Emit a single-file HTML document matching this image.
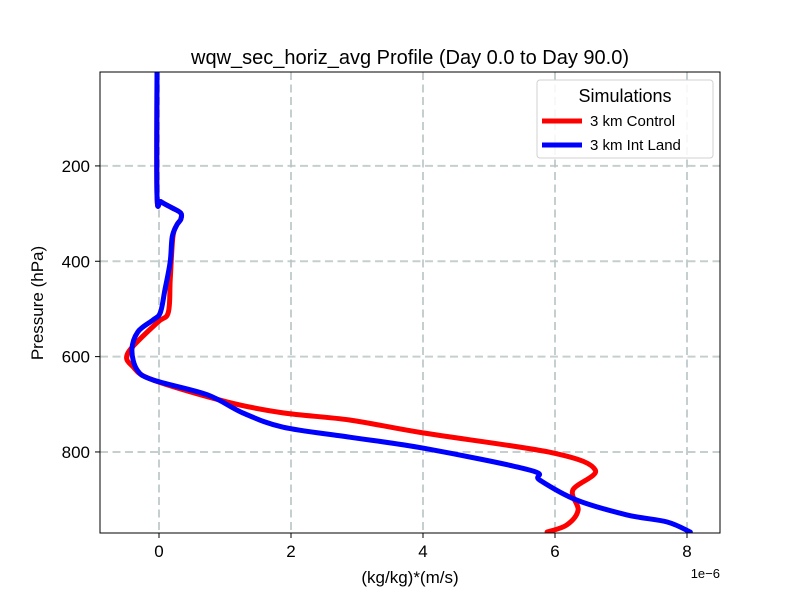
<!DOCTYPE html>
<html><head><meta charset="utf-8"><style>
body{margin:0;background:#fff;}
svg text{font-family:"Liberation Sans","DejaVu Sans",sans-serif;}
</style></head><body>
<svg id="chart" width="800" height="600" xmlns="http://www.w3.org/2000/svg"></svg>
<script>
const xTicks=[0,2,4,6,8];
const yTicks=[200,400,600,800];
const seriesNames=["3 km Control","3 km Int Land"];
const controlP=[3,262,275,288,299,312,324,349,439,508,529,592,622,649,695,718,733,760,802,838,880,922,953,968];
const controlX=[-0.03,-0.03,0.03,0.2,0.33,0.33,0.27,0.21,0.17,0.14,-0.03,-0.47,-0.39,-0.09,1.03,1.88,2.89,4.0,5.97,6.61,6.27,6.35,6.18,5.88];
const intLandP=[3,262,275,288,299,312,324,349,401,460,508,523,548,586,628,649,680,718,748,769,792,838,859,901,932,947,968];
const intLandX=[-0.03,-0.03,0.03,0.2,0.33,0.33,0.27,0.2,0.17,0.09,0.02,-0.09,-0.32,-0.41,-0.33,-0.09,0.73,1.27,1.88,2.89,4.0,5.62,5.77,6.33,7.09,7.7,8.05];
const NS="http://www.w3.org/2000/svg";
const svg=document.getElementById('chart');
const L=100,R=720,T=72,B=533;
const xMin=-0.894,xMax=8.5,pMin=3,pMax=970;
const sx=v=>L+(v-xMin)/(xMax-xMin)*(R-L);
const sy=p=>T+(p-pMin)/(pMax-pMin)*(B-T);
function mk(tag,attrs,parent){const e=document.createElementNS(NS,tag);for(const k in attrs)e.setAttribute(k,attrs[k]);(parent||svg).appendChild(e);return e;}
xTicks.forEach(t=>{const l=mk('line',{x1:sx(t),x2:sx(t),y1:T,y2:B,stroke:'#b8c4c4','stroke-width':2,'stroke-dasharray':'8,4.5',opacity:0.8});
});
yTicks.forEach(t=>{const l=mk('line',{x1:L,x2:R,y1:sy(t),y2:sy(t),stroke:'#b8c4c4','stroke-width':2,'stroke-dasharray':'8,4.5',opacity:0.8});
});
const clip=mk('clipPath',{id:'cp'});mk('rect',{x:L,y:T,width:R-L,height:B-T},clip);
const g=mk('g',{'clip-path':'url(#cp)'});
function smoothPath(P,X){const pts=P.map((p,i)=>[sx(X[i]),sy(p)]);let d='M'+pts[0][0].toFixed(1)+','+pts[0][1].toFixed(1);
for(let i=0;i<pts.length-1;i++){const p0=pts[Math.max(0,i-1)],p1=pts[i],p2=pts[i+1],p3=pts[Math.min(pts.length-1,i+2)];
const c1=[p1[0]+(p2[0]-p0[0])/6,p1[1]+(p2[1]-p0[1])/6],c2=[p2[0]-(p3[0]-p1[0])/6,p2[1]-(p3[1]-p1[1])/6];
d+=' C'+c1[0].toFixed(1)+','+c1[1].toFixed(1)+' '+c2[0].toFixed(1)+','+c2[1].toFixed(1)+' '+p2[0].toFixed(1)+','+p2[1].toFixed(1);}
return d;}
function drawInto(P,X,color,name){
const pa=mk('path',{d:smoothPath(P,X),fill:'none',stroke:color,'stroke-width':5,'stroke-linejoin':'round','stroke-linecap':'round'},g);
}
drawInto(controlP,controlX,'#ff0000','control-line');
drawInto(intLandP,intLandX,'#0000ff','int-land-line');
const fr=mk('rect',{x:L,y:T,width:R-L,height:B-T,fill:'none',stroke:'#000','stroke-width':1});

xTicks.forEach(t=>{const x=sx(t);mk('line',{x1:x,x2:x,y1:B,y2:B+5,stroke:'#000'});
const tx=mk('text',{x:x,y:B+24,'text-anchor':'middle','font-size':17});tx.textContent=t;
});
yTicks.forEach(t=>{const y=sy(t);mk('line',{x1:L-5,x2:L,y1:y,y2:y,stroke:'#000'});
const tx=mk('text',{x:L-10,y:y+6,'text-anchor':'end','font-size':17});tx.textContent=t;
});
</script>
<svg style="position:absolute;left:0;top:0" width="800" height="600">
<text x="410" y="64" text-anchor="middle" font-size="20">wqw_sec_horiz_avg Profile (Day 0.0 to Day 90.0)</text>
<text x="410" y="583" text-anchor="middle" font-size="17">(kg/kg)*(m/s)</text>
<text x="720" y="578" text-anchor="end" font-size="13">1e−6</text>
<text transform="translate(43,303) rotate(-90)" text-anchor="middle" font-size="17">Pressure (hPa)</text>
<g>
<rect x="537" y="80" width="176" height="78" rx="3" fill="#fff" fill-opacity="0.85" stroke="#d0d0d0"/>
<text x="625" y="102" text-anchor="middle" font-size="18">Simulations</text>
<line x1="542" y1="121" x2="582" y2="121" stroke="#ff0000" stroke-width="5"/>
<text x="590" y="126" font-size="15">3 km Control</text>
<line x1="542" y1="145" x2="582" y2="145" stroke="#0000ff" stroke-width="5"/>
<text x="590" y="150" font-size="15">3 km Int Land</text>
</g>
</svg>
</body></html>
